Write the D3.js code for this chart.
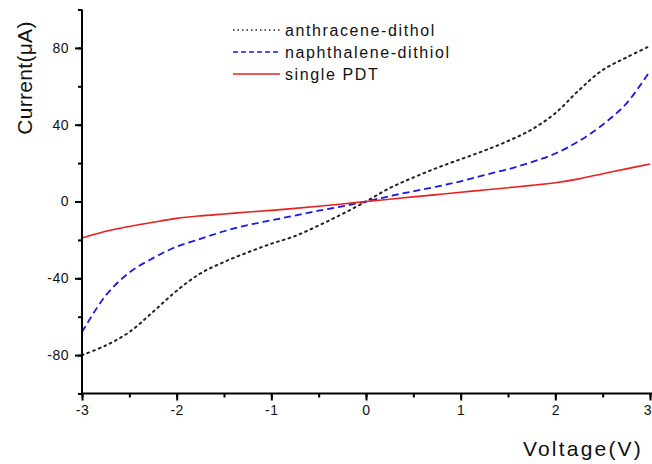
<!DOCTYPE html>
<html><head><meta charset="utf-8">
<script src="https://cdn.jsdelivr.net/npm/d3@7"></script>
<style>
html,body{margin:0;padding:0;background:#fff;}
svg{display:block;font-family:"Liberation Sans",Arial,sans-serif;}
</style></head>
<body>
<svg id="chart" width="652" height="464"></svg>
<script>
const voltage = [-3,-2.75,-2.5,-2.25,-2,-1.75,-1.5,-1.25,-1,-0.75,-0.5,-0.25,0,0.25,0.5,0.75,1,1.25,1.5,1.75,2,2.25,2.5,2.75,3];
const anthracene = [-80,-75,-68,-57.5,-46.5,-37.5,-31.5,-26.5,-22,-18,-12.5,-6.5,0,7,12.5,17.5,22,26.5,31.5,37.5,46,58,68.5,75,81];
const naphthalene = [-68,-49,-37,-29.5,-23.5,-19.5,-15.5,-12.3,-9.8,-7.3,-4.8,-2.5,0,2.8,5.3,7.8,10.5,13.8,16.8,20.5,25,31.5,40,51,68];
const singlePDT = [-19,-15.5,-13,-10.8,-8.8,-7.5,-6.5,-5.5,-4.6,-3.6,-2.5,-1.3,0,1.2,2.4,3.6,4.8,6,7.2,8.4,9.8,11.8,14.5,17,19.5];
const seriesNames = ["anthracene-dithol","naphthalene-dithiol","single PDT"];
const xTicks = [-3,-2,-1,0,1,2,3];
const yTicks = [-80,-40,0,40,80];
const xLabel = "Voltage(V)";
const yLabel = "Current(\u03bcA)";

const svg = d3.select("#chart");
const x = d3.scaleLinear().domain([-3,3]).range([82,650]);
const y = d3.scaleLinear().domain([-100,100]).range([393.5,9.5]);

const series = [
  {name:seriesNames[0], values:anthracene, color:"#222", dash:"1.8,4.2", width:2, cap:"round"},
  {name:seriesNames[1], values:naphthalene, color:"#1a1ae6", dash:"7,4", width:1.8, cap:"butt"},
  {name:seriesNames[2], values:singlePDT, color:"#e8201e", dash:null, width:1.6, cap:"butt"}
];

const line = d3.line().x(d=>x(d[0])).y(d=>y(d[1])).curve(d3.curveCatmullRom.alpha(0.5));

series.forEach(s=>{
  svg.append("path")
    .datum(voltage.map((v,i)=>[v,s.values[i]]))
    .attr("d",line)
    .attr("fill","none")
    .attr("stroke",s.color)
    .attr("stroke-width",s.width)
    .attr("stroke-linecap",s.cap)
    .attr("stroke-dasharray",s.dash);
});

const fmt = d => String(d);
const xMinor = d3.range(-3,3.01,0.5);
const yMinor = d3.range(-100,100.1,20);
const tickFont = g => g.selectAll("text").attr("font-size",14).attr("letter-spacing",0.5)
  .attr("fill","#111").attr("font-family","Liberation Sans, Arial, sans-serif");

const xAxis = svg.append("g").attr("transform","translate(0,393.5)");
xAxis.call(d3.axisBottom(x).tickValues(xMinor).tickSize(4).tickFormat(""));
const xMaj = xAxis.append("g").call(d3.axisBottom(x).tickValues(xTicks).tickSize(7).tickPadding(5).tickFormat(fmt));
xMaj.select(".domain").remove();
xAxis.select(".domain").attr("stroke","#000").attr("stroke-width",2).attr("d","M81,0H652");
xAxis.selectAll(".tick line").attr("stroke","#000").attr("stroke-width",2);
tickFont(xAxis);
xMaj.selectAll(".tick text").filter(d=>d===3).attr("text-anchor","end").attr("letter-spacing",0).attr("dx",1);

const yAxis = svg.append("g").attr("transform","translate(82,0)");
yAxis.call(d3.axisLeft(y).tickValues(yMinor).tickSize(4).tickFormat(""));
const yMaj = yAxis.append("g").call(d3.axisLeft(y).tickValues(yTicks).tickSize(7).tickPadding(6).tickFormat(fmt));
yMaj.select(".domain").remove();
yAxis.select(".domain").attr("stroke","#000").attr("stroke-width",2).attr("d","M0,394.5V9.5");
yAxis.selectAll(".tick line").attr("stroke","#000").attr("stroke-width",2);
tickFont(yAxis);

// axis titles
svg.append("text").attr("x",643).attr("y",456).attr("text-anchor","end")
  .attr("font-size",21).attr("letter-spacing",2.2).attr("fill","#111").text(xLabel);
svg.append("text").attr("transform","translate(32,78) rotate(-90)").attr("text-anchor","middle")
  .attr("font-size",21).attr("letter-spacing",0.3).attr("fill","#111").text(yLabel);

// legend
const legY = [30,52,74];
series.forEach((s,i)=>{
  svg.append("line").attr("x1",233).attr("x2",280).attr("y1",legY[i]).attr("y2",legY[i])
    .attr("stroke",s.color).attr("stroke-width",1.5)
    .attr("stroke-dasharray", s.dash ? (i===0 ? "1.5,3" : "5,3") : null);
  svg.append("text").attr("x",285).attr("y",legY[i]+5.5).attr("font-size",16)
    .attr("letter-spacing",1.6).attr("fill","#111").text(s.name);
});
</script>
</body></html>
